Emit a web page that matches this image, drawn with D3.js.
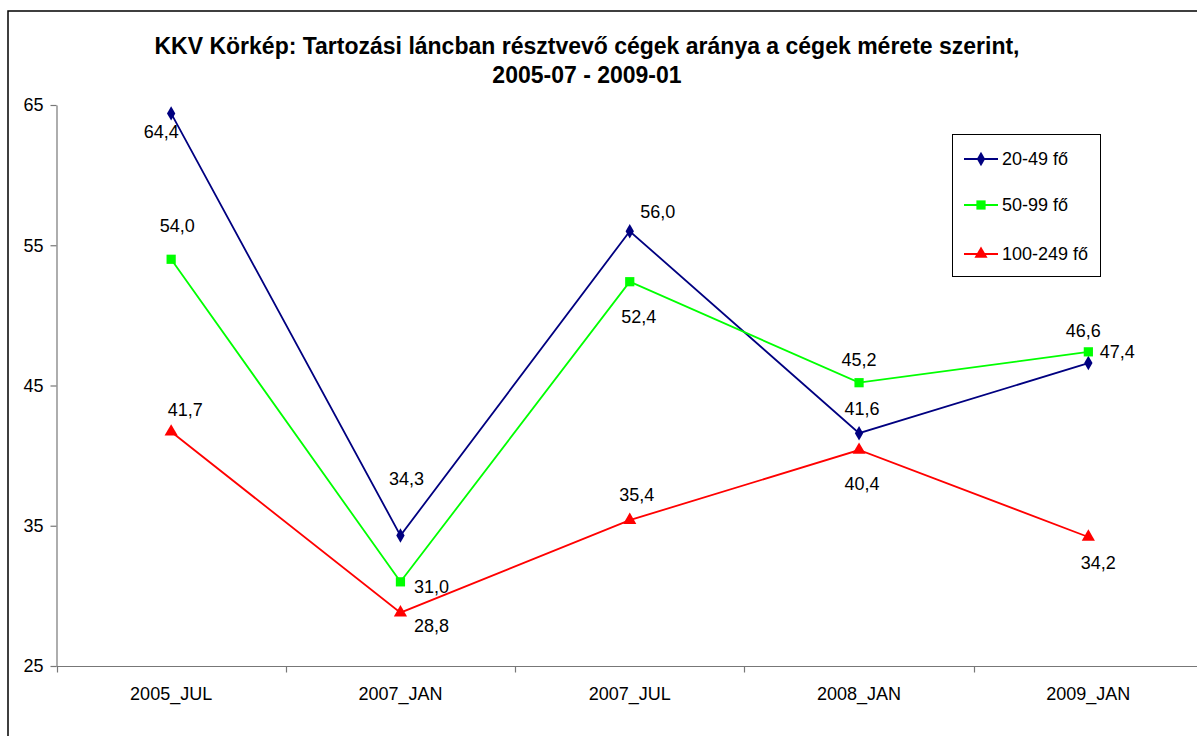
<!DOCTYPE html>
<html>
<head>
<meta charset="utf-8">
<script src="https://d3js.org/d3.v7.min.js"></script>
<style>
  body { margin: 0; background: #fff; }
  text { font-family: Arial, "Liberation Sans", sans-serif; fill: #000; }
</style>
</head>
<body>
<svg id="chart" width="1197" height="736"></svg>
<script>
  var categories = ["2005_JUL", "2007_JAN", "2007_JUL", "2008_JAN", "2009_JAN"];
  var seriesNames = ["20-49 fő", "50-99 fő", "100-249 fő"];
  var small = [64.4, 34.3, 56.0, 41.6, 46.6];
  var medium = [54.0, 31.0, 52.4, 45.2, 47.4];
  var large = [41.7, 28.8, 35.4, 40.4, 34.2];
  var yTicks = [25, 35, 45, 55, 65];

  // where each value label sits, relative to its point (dx, dy)
  var labelOffsets = [
    [[-10, 19], [6, -57], [28, -19], [3, -24], [-5, -32]],
    [[6, -33], [31, 5], [9, 35], [0, -23], [29, 0]],
    [[14, -22], [31, 13], [7, -25], [3, 34], [10, 26]]
  ];

  var colors = ["#000080", "#00ff00", "#ff0000"];
  var symbols = [d3.symbolDiamond, d3.symbolSquare, d3.symbolTriangle];
  var symSizes = [60, 85, 75];

  var series = [small, medium, large].map(function(v, i) {
    return {name: seriesNames[i], values: v, color: colors[i], symbol: symbols[i], size: symSizes[i], offs: labelOffsets[i]};
  });

  var svg = d3.select("#chart");

  // outer chart frame
  svg.append("rect")
    .attr("x", 8).attr("y", 11)
    .attr("width", 1220).attr("height", 760)
    .attr("fill", "none").attr("stroke", "#000").attr("stroke-width", 1.5);

  var x = d3.scaleBand().domain(categories).range([56.5, 56.5 + 5 * 229.3]);
  var y = d3.scaleLinear().domain([25, 65]).range([666, 105]);

  // title
  var title = svg.append("text")
    .attr("text-anchor", "middle")
    .style("font-weight", "bold")
    .style("font-size", "23px");
  title.append("tspan").attr("x", 587).attr("y", 54)
    .text("KKV Körkép: Tartozási láncban résztvevő cégek aránya a cégek mérete szerint,");
  title.append("tspan").attr("x", 587).attr("y", 83).text("2005-07 - 2009-01");

  // y axis
  var yAxis = svg.append("g")
    .attr("transform", "translate(56.5,0)")
    .call(d3.axisLeft(y).tickValues(yTicks).tickSize(6).tickSizeOuter(0).tickPadding(7));
  yAxis.selectAll("text").style("font-size", "18px").attr("font-family", null);
  yAxis.selectAll("line, path").attr("stroke", "#777").attr("stroke-width", 1.2);

  // x axis: ticks between categories
  var xAxis = svg.append("g").attr("transform", "translate(0,666.5)");
  xAxis.append("line")
    .attr("x1", x.range()[0]).attr("x2", x.range()[1])
    .attr("stroke", "#777").attr("stroke-width", 1.2);
  xAxis.selectAll(".tk").data(categories).enter().append("line")
    .attr("class", "tk")
    .attr("x1", function(d) { return Math.round(x(d)) + 0.5; })
    .attr("x2", function(d) { return Math.round(x(d)) + 0.5; })
    .attr("y1", 0).attr("y2", 6)
    .attr("stroke", "#777").attr("stroke-width", 1.2);
  xAxis.selectAll(".lb").data(categories).enter().append("text")
    .attr("class", "lb")
    .attr("x", function(d) { return x(d) + x.bandwidth() / 2; })
    .attr("y", 33)
    .attr("text-anchor", "middle")
    .style("font-size", "18px")
    .text(function(d) { return d; });

  var cx = function(i) { return x(categories[i]) + x.bandwidth() / 2; };

  var line = d3.line()
    .x(function(d, i) { return cx(i); })
    .y(function(d) { return y(d); });

  var g = svg.selectAll(".series").data(series).enter().append("g").attr("class", "series");

  g.append("path")
    .attr("d", function(d) { return line(d.values); })
    .attr("fill", "none")
    .attr("stroke", function(d) { return d.color; })
    .attr("stroke-width", 1.8);

  g.each(function(s) {
    var grp = d3.select(this);
    grp.selectAll(".mk").data(s.values).enter().append("path")
      .attr("class", "mk")
      .attr("transform", function(d, i) { return "translate(" + cx(i) + "," + y(d) + ")"; })
      .attr("d", d3.symbol().type(s.symbol).size(s.size))
      .attr("fill", s.color);
    grp.selectAll(".vl").data(s.values).enter().append("text")
      .attr("class", "vl")
      .attr("x", function(d, i) { return cx(i) + s.offs[i][0]; })
      .attr("y", function(d, i) { return y(d) + s.offs[i][1]; })
      .attr("text-anchor", "middle")
      .attr("dominant-baseline", "central")
      .style("font-size", "18px")
      .text(function(d) { return d.toFixed(1).replace(".", ","); });
  });

  // legend
  var legend = svg.append("g");
  legend.append("rect")
    .attr("x", 952.5).attr("y", 134.5).attr("width", 148).attr("height", 142)
    .attr("fill", "#fff").attr("stroke", "#000").attr("stroke-width", 1);
  var li = legend.selectAll(".li").data(series).enter().append("g")
    .attr("transform", function(d, i) { return "translate(0," + [159, 205, 254][i] + ")"; });
  li.append("line")
    .attr("x1", 964).attr("x2", 998)
    .attr("stroke", function(d) { return d.color; }).attr("stroke-width", 1.8);
  li.append("path")
    .attr("transform", "translate(981,0)")
    .attr("d", function(d) { return d3.symbol().type(d.symbol).size(d.size)(); })
    .attr("fill", function(d) { return d.color; });
  li.append("text")
    .attr("x", 1002).attr("y", 0)
    .attr("dominant-baseline", "central")
    .style("font-size", "18px")
    .text(function(d) { return d.name; });
</script>
</body>
</html>
